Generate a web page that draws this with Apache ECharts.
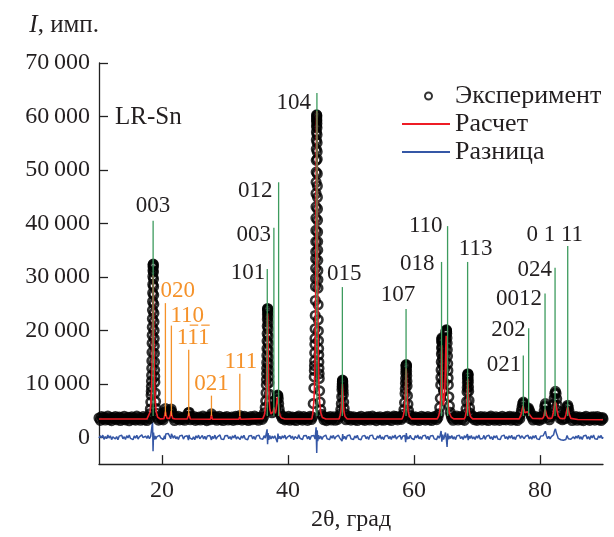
<!DOCTYPE html>
<html>
<head>
<meta charset="utf-8">
<script src="https://cdn.jsdelivr.net/npm/echarts@6/dist/echarts.min.js"></script>
<style>
  html, body { margin: 0; padding: 0; background: #fff; }
  #chart { width: 614px; height: 537px; }
</style>
</head>
<body>
<div id="chart"></div>
<script>
// Axis ticks
const xTicks = [20, 40, 60, 80];
const yTicks = [0, 10000, 20000, 30000, 40000, 50000, 60000, 70000];

// Observed pattern: background between reflections, [2θ, counts]
const obsBackground = [
  [10.0,3620],[10.2,3180],[10.4,3880],[10.6,3450],[10.8,3760],[11.0,3240],[11.2,3560],[11.4,3990],
  [11.6,3310],[11.8,3640],[12.0,3120],[12.2,3700],[12.4,3470],[12.6,3910],[12.8,3280],[13.0,3590],
  [13.2,3820],[13.4,3150],[13.6,3680],[13.8,3390],[14.0,3950],[14.2,3260],[14.4,3530],[14.6,3740],
  [14.8,3110],[15.0,3600],[15.2,3850],[15.4,3330],[15.6,3670],[15.8,3210],[16.0,3980],[16.2,3420],
  [16.4,3710],[16.6,3190],[16.8,3560],[17.0,3870],[17.2,3300],[17.4,3650],[17.6,3140],[17.8,3790],
  [18.0,3500],
  [19.25,3720],[19.45,3230],[19.65,3880],[19.85,3410],[20.05,3620],[20.2,3260],
  [21.8,3690],[22.0,3150],[22.2,3830],[22.4,3480],[22.6,3940],[22.8,3270],[23.0,3610],[23.2,3360],
  [23.4,3780],[23.6,3190],[23.8,3570],[24.0,3850],
  [24.5,3300],[24.7,3720],[24.9,3460],[25.1,3910],[25.3,3180],[25.5,3640],[25.7,3390],[25.9,3800],
  [26.1,3250],[26.3,3560],[26.5,3970],[26.7,3340],[26.9,3690],[27.1,3130],[27.3,3600],[27.5,3820],
  [27.65,3280],
  [28.1,3730],[28.3,3410],[28.5,3860],[28.7,3200],[28.9,3580],[29.1,3940],[29.3,3310],[29.5,3660],
  [29.7,3150],[29.9,3750],[30.1,3470],[30.3,3890],[30.5,3240],[30.7,3620],[30.9,3360],[31.1,3810],
  [31.3,3170],[31.5,3540],[31.7,3920],[31.9,3290],[32.1,3680],[32.25,3420],
  [32.5,3760],[32.7,3220],[32.9,3590],[33.1,3950],[33.3,3330],[33.5,3700],[33.7,3160],[33.9,3610],
  [34.1,3870],[34.3,3280],[34.5,3540],[34.7,3980],[34.9,3400],[35.1,3720],[35.3,3190],[35.5,3630],
  [35.7,3850],[35.9,3350],[36.1,3780],
  [39.1,3520],[39.3,3890],[39.5,3260],[39.7,3640],[39.9,3380],[40.1,3930],[40.3,3200],[40.5,3580],
  [40.7,3810],[40.9,3300],[41.1,3690],[41.3,3140],[41.5,3760],[41.7,3990],[41.9,3410],[42.1,3620],
  [42.3,3230],[42.5,3870],[42.7,3460],[42.9,3700],[43.1,3170],[43.3,3590],[43.5,3920],[43.7,3340],
  [43.9,3800],
  [45.5,3950],[45.7,3290],[45.9,3660],[46.1,3130],[46.3,3740],[46.5,3420],[46.7,3880],[46.9,3250],
  [47.1,3570],[47.3,3830],[47.5,3190],[47.7,3680],[47.9,3360],[48.1,3910],
  [49.2,3300],[49.4,3770],[49.6,3450],[49.8,3920],[50.0,3210],[50.2,3590],[50.4,3840],[50.6,3280],
  [50.8,3650],[51.0,3150],[51.2,3730],[51.4,3490],[51.6,3960],[51.8,3320],[52.0,3610],[52.2,3180],
  [52.4,3800],[52.6,3430],[52.8,3890],[53.0,3240],[53.2,3570],[53.4,3980],[53.6,3350],[53.8,3690],
  [54.0,3120],[54.2,3750],[54.4,3460],[54.6,3860],[54.8,3270],[55.0,3630],[55.2,3200],[55.4,3810],
  [55.6,3400],[55.8,3940],[56.0,3310],[56.2,3660],[56.4,3150],[56.6,3720],[56.8,3980],[57.0,3440],
  [57.2,3870],[57.4,3260],[57.6,3600],[57.8,3830],[58.0,3350],[58.15,3700],
  [59.4,3480],[59.6,3910],[59.8,3230],[60.0,3640],[60.2,3850],[60.4,3300],[60.6,3700],[60.8,3160],
  [61.0,3580],[61.2,3960],[61.4,3370],[61.6,3730],[61.8,3210],[62.0,3620],[62.2,3880],[62.4,3290],
  [62.6,3670],[62.8,3140],[63.0,3790],[63.2,3450],[63.4,3930],[63.6,3320],[63.8,3710],
  [66.0,3580],[66.2,3190],[66.4,3820],[66.6,3460],[66.8,3970],[67.0,3250],[67.2,3630],[67.4,3870],
  [67.6,3340],[67.8,3720],[68.0,3170],
  [69.2,3690],[69.4,3940],[69.6,3300],[69.8,3610],[70.0,3180],[70.2,3760],[70.4,3440],[70.6,3900],
  [70.8,3230],[71.0,3570],[71.2,3830],[71.4,3290],[71.6,3680],[71.8,3150],[72.0,3740],[72.2,3990],
  [72.4,3380],[72.6,3620],[72.8,3200],[73.0,3860],[73.2,3410],[73.4,3710],[73.6,3170],[73.8,3590],
  [74.0,3950],[74.2,3320],[74.4,3650],[74.6,3260],[74.8,3800],[75.0,3470],[75.2,3920],[75.4,3190],
  [75.6,3610],[75.8,3840],[76.0,3300],[76.2,3700],[76.4,3160],[76.6,3750],[76.8,3520],
  [78.7,3780],[78.9,3250],[79.1,3640],[79.3,3900],[79.5,3310],[79.7,3690],[79.9,3180],[80.1,3760],
  [80.3,3430],
  [81.3,3680],[81.5,3290],[81.7,3850],
  [83.15,3560],[83.35,3920],[83.55,3300],[83.75,3710],[83.95,3480],
  [84.9,3620],[85.1,3150],[85.3,3730],[85.5,3450],[85.7,3880],[85.9,3200],[86.1,3590],[86.3,3820],
  [86.5,3260],[86.7,3650],[86.9,3120],[87.1,3700],[87.3,3940],[87.5,3360],[87.7,3600],[87.9,3170],
  [88.1,3780],[88.3,3410],[88.5,3860],[88.7,3230],[88.9,3560],[89.1,3900],[89.3,3290],[89.5,3640],
  [89.7,3150],[89.9,3720],[90.0,3450]
];

// Observed pattern: reflection profiles, [2θ, counts]
const obsPeaks = [
  [18.05,4400],[18.15,5300],[18.22,6600],[18.27,7900],[18.29,8600],[18.31,9500],[18.33,10500],
  [18.35,11600],[18.37,12900],[18.39,14300],[18.41,15900],[18.43,17600],[18.445,19100],[18.46,20600],
  [18.475,22200],[18.49,23800],[18.505,25400],[18.52,27000],[18.535,28600],[18.55,30100],
  [18.565,31200],[18.58,32000],[18.595,32300],[18.61,32400],[18.625,31800],[18.64,30900],
  [18.655,29600],[18.67,28200],[18.685,26600],[18.70,24900],[18.715,23200],[18.73,21600],
  [18.745,20000],[18.76,18500],[18.775,17100],[18.79,15700],[18.81,14100],[18.83,12600],
  [18.85,11400],[18.87,10300],[18.92,8300],[18.98,6700],[19.06,5400],[19.18,4500],
  [20.35,3900],[20.45,4700],[20.55,5400],[20.65,4900],[20.75,4300],[20.85,4600],[21.0,4500],
  [21.15,4700],[21.25,4200],[21.35,4900],[21.45,5300],[21.55,4800],[21.65,4000],
  [24.1,4000],[24.2,4600],[24.3,4700],[24.4,4000],
  [27.75,3900],[27.85,4400],[27.95,3900],
  [32.35,4100],
  [36.26,4600],[36.38,5600],[36.46,6800],[36.52,8300],[36.56,9800],[36.58,10800],[36.60,11900],
  [36.615,12900],[36.63,14000],[36.645,15300],[36.66,16600],[36.675,18000],[36.69,19400],
  [36.705,20800],[36.72,22100],[36.735,23000],[36.75,23800],[36.765,24100],[36.78,24000],
  [36.795,23400],[36.81,22600],[36.825,21500],[36.84,20300],[36.855,18900],[36.87,17600],
  [36.885,16300],[36.90,15000],[36.915,13800],[36.93,12600],[36.95,11400],[36.97,10200],
  [37.02,8100],[37.08,6700],[37.16,5700],[37.28,5000],
  [37.45,4600],[37.60,5200],[37.72,5700],[37.82,5500],[37.95,5000],[38.05,5300],[38.15,6200],
  [38.22,7000],[38.28,7600],[38.34,7900],[38.40,7800],[38.46,7200],[38.52,6300],[38.60,5300],
  [38.72,4500],[38.9,4000],
  [44.00,6300],[44.10,9200],[44.16,11300],[44.18,12500],[44.20,13400],[44.22,14300],[44.24,15800],
  [44.26,17400],[44.28,18500],[44.30,20300],[44.32,22800],[44.34,25600],[44.36,28200],[44.37,29700],
  [44.38,31600],[44.39,33400],[44.40,34700],[44.41,36600],[44.42,38700],[44.43,41000],[44.44,43100],
  [44.45,45600],[44.46,47700],[44.47,49600],[44.48,51800],[44.49,53900],[44.50,55600],[44.51,57100],
  [44.52,58200],[44.53,59100],[44.54,59600],[44.55,60300],[44.56,60200],[44.57,59900],[44.58,59300],
  [44.59,58700],[44.60,57900],[44.61,56600],[44.62,55100],[44.63,53400],[44.64,52000],[44.65,49300],
  [44.66,47000],[44.67,44900],[44.68,42700],[44.69,40600],[44.70,38400],[44.71,36600],[44.72,35000],
  [44.73,33100],[44.74,31200],[44.75,29500],[44.76,27900],[44.78,24800],[44.80,22000],[44.82,19900],
  [44.84,18100],[44.86,16600],[44.88,15400],[44.90,14100],[44.92,12900],[44.94,11900],[44.96,11000],
  [45.02,8700],[45.10,6600],[45.20,5200],[45.35,4300],
  [48.25,4300],[48.38,5200],[48.46,6300],[48.52,7600],[48.57,8900],[48.59,9500],[48.61,10000],
  [48.63,10400],[48.65,10700],[48.67,10600],[48.69,10400],[48.71,9900],[48.73,9400],[48.755,8700],
  [48.78,8000],[48.84,6600],[48.92,5400],[49.05,4400],
  [58.28,4300],[58.40,5200],[58.50,6500],[58.58,8200],[58.61,9100],[58.64,10100],[58.665,11000],
  [58.69,12000],[58.71,12700],[58.73,13300],[58.75,13500],[58.77,13600],[58.79,13400],[58.81,13000],
  [58.83,12300],[58.85,11500],[58.875,10500],[58.90,9600],[58.96,7800],[59.04,6200],[59.14,5000],
  [59.28,4200],
  [63.95,4400],[64.08,5600],[64.17,7300],[64.24,9800],[64.27,11200],[64.30,12600],[64.33,14100],
  [64.35,15600],[64.37,16700],[64.39,17800],[64.41,18300],[64.43,18600],[64.45,18400],[64.47,17900],
  [64.49,17000],[64.51,16000],[64.535,14800],[64.56,13600],[64.59,12000],[64.62,10500],[64.68,8800],
  [64.74,8600],[64.80,10200],[64.86,12800],[64.89,14100],[64.92,15400],[64.95,16600],[64.98,17800],
  [65.01,18600],[65.04,19300],[65.07,19700],[65.10,19900],[65.125,20100],[65.15,20000],
  [65.175,19800],[65.20,19400],[65.23,18600],[65.26,17600],[65.29,16400],[65.32,15200],
  [65.35,13800],[65.38,12500],[65.415,11100],[65.45,9800],[65.53,7600],[65.62,5900],[65.75,4700],
  [65.9,4100],
  [68.13,4300],[68.26,5300],[68.35,6700],[68.42,8500],[68.45,9300],[68.47,10200],[68.49,10900],
  [68.51,11400],[68.53,11700],[68.55,11900],[68.57,11800],[68.59,11500],[68.61,10900],[68.63,10300],
  [68.655,9400],[68.68,8600],[68.74,6900],[68.82,5500],[68.93,4500],[69.08,4000],
  [76.9,4300],[77.05,5000],[77.15,5700],[77.25,6300],[77.35,6600],[77.45,6300],[77.55,5700],
  [77.7,5300],[77.85,5200],[78.0,5400],[78.15,5500],[78.3,5100],[78.45,4600],[78.6,4100],
  [80.5,4100],[80.65,4900],[80.75,5800],[80.85,6300],[80.95,5800],[81.05,4900],[81.2,4200],
  [81.9,4300],[82.05,5200],[82.15,6200],[82.25,7300],[82.35,8200],[82.45,8600],[82.55,8200],
  [82.65,7200],[82.75,6000],[82.85,5000],[83.0,4300],
  [84.05,4200],[84.2,5000],[84.3,5700],[84.4,6000],[84.5,5600],[84.6,4900],[84.75,4200]
];

// Calculated profile, [2θ, counts]
const calcProfile = [
  [10.0,3420],[17.6,3420],[17.9,3600],[18.1,4700],[18.25,6400],[18.35,8900],[18.42,12600],
  [18.48,18300],[18.53,24300],[18.57,28700],[18.60,30300],[18.63,28700],[18.67,24300],[18.72,18300],
  [18.78,12600],[18.85,8900],[18.95,6400],[19.1,4700],[19.3,3800],[19.7,3450],
  [20.3,3480],[20.45,4200],[20.55,4800],[20.65,4200],[20.8,3550],[21.2,3550],[21.35,4200],
  [21.45,4900],[21.55,4200],[21.7,3550],[22.1,3420],
  [24.0,3420],[24.15,4000],[24.25,4500],[24.35,4000],[24.5,3420],
  [27.7,3400],[27.85,4200],[28.0,3400],
  [32.2,3400],[32.35,3900],[32.5,3400],
  [36.0,3500],[36.25,4200],[36.4,5200],[36.5,6800],[36.58,9500],[36.64,13500],[36.69,19000],
  [36.73,22300],[36.76,23200],[36.79,22300],[36.83,19000],[36.88,13500],[36.94,9500],[37.01,6800],
  [37.12,5200],[37.3,4400],[37.5,4300],[37.65,4800],[37.76,5600],[37.88,4900],[38.0,4500],
  [38.12,5200],[38.22,6600],[38.30,7500],[38.36,7600],[38.42,7300],[38.50,6100],[38.60,4800],
  [38.75,4000],[39.0,3600],[39.5,3420],
  [43.8,3450],[43.95,4600],[44.1,6700],[44.2,9300],[44.28,13400],[44.32,16800],[44.36,22000],
  [44.40,29800],[44.44,40200],[44.48,51200],[44.52,58600],[44.56,61000],[44.60,58600],[44.64,51200],
  [44.68,40200],[44.72,29800],[44.76,22000],[44.80,16800],[44.84,13400],[44.92,9300],[45.02,6700],
  [45.2,4600],[45.45,3700],[46.0,3420],
  [48.1,3420],[48.25,4000],[48.4,4800],[48.5,6300],[48.58,8700],[48.64,10000],[48.70,8700],
  [48.78,6300],[48.88,4800],[49.05,3900],[49.4,3420],
  [58.1,3420],[58.3,4000],[58.45,4900],[58.55,6400],[58.64,9000],[58.71,11900],[58.76,12900],
  [58.81,11900],[58.88,9000],[58.97,6400],[59.07,4900],[59.25,4000],[59.6,3450],
  [63.7,3450],[63.95,4100],[64.1,5000],[64.22,7200],[64.30,11000],[64.35,15200],[64.39,17200],
  [64.43,15200],[64.49,11000],[64.57,7500],[64.67,6000],[64.78,6300],[64.88,8400],[64.97,12500],
  [65.05,16800],[65.11,19000],[65.17,17200],[65.25,12800],[65.34,8400],[65.45,5900],[65.6,4600],
  [65.9,3800],[66.3,3450],
  [68.0,3450],[68.15,3900],[68.3,4800],[68.41,6900],[68.48,9700],[68.53,11000],[68.58,9700],
  [68.66,6900],[68.78,4800],[68.95,3900],[69.3,3450],
  [76.7,3450],[76.95,4100],[77.1,4800],[77.22,5500],[77.33,5900],[77.45,5200],[77.6,4600],
  [77.8,4500],[78.0,4800],[78.15,5000],[78.3,4600],[78.5,4000],[78.8,3550],
  [80.4,3500],[80.6,3900],[80.72,4600],[80.82,5200],[80.92,4800],[81.05,4100],[81.3,3550],
  [81.9,3600],[82.1,4500],[82.25,5700],[82.37,6700],[82.45,7000],[82.55,6300],[82.7,5000],
  [82.9,4000],[83.2,3550],
  [83.9,3500],[84.1,4200],[84.28,5200],[84.4,5700],[84.5,5200],[84.65,4300],[84.9,3550],
  [86.0,3350],[90.0,3300]
];

// Difference curve (observed minus calculated), [2θ, counts]
const diffProfile = [
  [10.0,-150],[10.2,300],[10.4,-80],[10.6,420],[10.8,-380],[11.0,150],[11.2,-250],[11.4,450],
  [11.6,-120],[11.8,280],[12.0,-420],[12.2,90],[12.4,350],[12.6,-300],[12.8,160],[13.0,-450],
  [13.2,230],[13.4,-60],[13.6,400],[13.8,-270],[14.0,120],[14.2,-390],[14.4,310],[14.6,-100],
  [14.8,440],[15.0,-200],[15.2,60],[15.4,-430],[15.6,260],[15.8,-140],[16.0,380],[16.2,-320],
  [16.4,100],[16.6,-220],[16.8,470],[17.0,-60],[17.2,-350],[17.4,240],[17.6,-180],[17.8,330],
  [18.0,-260],[18.2,180],[18.4,500],[18.5,2900],[18.58,-2600],[18.66,900],[18.75,-400],[18.9,250],
  [19.0,-320],[19.2,150],[19.4,-210],[19.6,380],[19.8,-90],[20.0,260],[20.2,-400],[20.4,300],
  [20.5,-350],[20.6,650],[20.8,420],[21.0,700],[21.2,380],[21.4,-250],[21.5,650],[21.6,300],
  [21.8,-150],[22.0,340],[22.2,-280],[22.4,120],[22.6,-410],[22.8,270],[23.0,-50],[23.2,390],
  [23.4,-330],[23.6,160],[23.8,-200],[24.0,310],[24.2,-520],[24.3,480],[24.4,-100],[24.6,230],
  [24.8,-360],[25.0,80],[25.2,-440],[25.4,290],[25.6,-120],[25.8,410],[26.0,-260],[26.2,30],
  [26.4,370],[26.6,-310],[26.8,190],[27.0,-400],[27.2,250],[27.4,-70],[27.6,340],[27.85,-480],
  [28.0,200],[28.2,-230],[28.4,420],[28.6,-360],[28.8,110],[29.0,-180],[29.2,450],[29.4,-290],
  [29.6,70],[29.8,-420],[30.0,280],[30.2,-40],[30.4,360],[30.6,-250],[30.8,140],[31.0,-380],
  [31.2,300],[31.4,-110],[31.6,430],[31.8,-320],[32.0,90],[32.2,-200],[32.4,-420],[32.6,260],
  [32.8,-150],[33.0,390],[33.2,-280],[33.4,50],[33.6,-460],[33.8,240],[34.0,-90],[34.2,350],
  [34.4,-300],[34.6,170],[34.8,-410],[35.0,280],[35.2,-30],[35.4,400],[35.6,-240],[35.8,120],
  [36.0,-370],[36.2,310],[36.4,-150],[36.6,-300],[36.68,1500],[36.76,-1300],[36.84,800],
  [36.95,-450],[37.1,350],[37.3,-300],[37.5,220],[37.7,-200],[37.9,300],[38.1,380],[38.3,-900],
  [38.4,700],[38.55,-250],[38.7,200],[38.9,-320],[39.1,280],[39.3,-120],[39.5,410],[39.7,-350],
  [39.9,60],[40.1,-270],[40.3,380],[40.5,-190],[40.7,250],[40.9,-440],[41.1,130],[41.3,330],
  [41.5,-220],[41.7,470],[41.9,-160],[42.1,90],[42.3,-400],[42.5,290],[42.7,-60],[42.9,360],
  [43.1,-310],[43.3,180],[43.5,-420],[43.7,240],[43.9,-80],[44.1,330],[44.3,-300],[44.46,1900],
  [44.56,-2900],[44.64,1300],[44.72,-700],[44.85,400],[45.0,-300],[45.2,220],[45.4,-380],
  [45.6,150],[45.8,-100],[46.0,420],[46.2,-260],[46.4,60],[46.6,-430],[46.8,290],[47.0,-150],
  [47.2,370],[47.4,-320],[47.6,110],[47.8,-230],[48.0,400],[48.2,-90],[48.4,250],[48.58,-700],
  [48.68,600],[48.8,-300],[49.0,180],[49.2,-380],[49.4,310],[49.6,-60],[49.8,440],[50.0,-250],
  [50.2,100],[50.4,-410],[50.6,270],[50.8,-130],[51.0,380],[51.2,-300],[51.4,40],[51.6,-460],
  [51.8,230],[52.0,-80],[52.2,350],[52.4,-280],[52.6,160],[52.8,-390],[53.0,300],[53.2,-20],
  [53.4,420],[53.6,-240],[53.8,110],[54.0,-350],[54.2,270],[54.4,-140],[54.6,450],[54.8,-310],
  [55.0,80],[55.2,-420],[55.4,240],[55.6,-60],[55.8,330],[56.0,-270],[56.2,170],[56.4,-400],
  [56.6,290],[56.8,-110],[57.0,430],[57.2,-330],[57.4,50],[57.6,-210],[57.8,360],[58.0,-390],
  [58.2,200],[58.4,-150],[58.55,350],[58.68,-900],[58.78,800],[58.9,-350],[59.0,150],[59.2,-280],
  [59.4,390],[59.6,-170],[59.8,60],[60.0,-430],[60.2,310],[60.4,-90],[60.6,420],[60.8,-260],
  [61.0,140],[61.2,-370],[61.4,280],[61.6,-40],[61.8,400],[62.0,-300],[62.2,190],[62.4,-450],
  [62.6,250],[62.8,-120],[63.0,360],[63.2,-280],[63.4,80],[63.6,-390],[63.8,300],[64.0,-150],
  [64.15,350],[64.3,1200],[64.42,-800],[64.55,500],[64.7,-400],[64.85,200],[65.0,900],
  [65.15,-500],[65.25,-1800],[65.35,700],[65.5,-350],[65.65,250],[65.8,-200],[66.0,330],
  [66.2,-310],[66.4,120],[66.6,-420],[66.8,280],[67.0,-70],[67.2,390],[67.4,-250],[67.6,150],
  [67.8,-380],[68.0,310],[68.2,-100],[68.35,-300],[68.48,600],[68.6,-500],[68.75,250],[68.9,-200],
  [69.1,340],[69.3,-290],[69.5,90],[69.7,-410],[69.9,260],[70.1,-140],[70.3,430],[70.5,-320],
  [70.7,40],[70.9,-220],[71.1,370],[71.3,-380],[71.5,200],[71.7,-60],[71.9,410],[72.1,-270],
  [72.3,130],[72.5,-440],[72.7,290],[72.9,-110],[73.1,350],[73.3,-300],[73.5,70],[73.7,-400],
  [73.9,240],[74.1,-30],[74.3,420],[74.5,-260],[74.7,160],[74.9,-370],[75.1,300],[75.3,-150],
  [75.5,380],[75.7,-330],[75.9,90],[76.1,-420],[76.3,260],[76.5,-80],[76.7,400],[76.9,-200],
  [77.1,300],[77.3,550],[77.5,-250],[77.7,200],[77.9,-150],[78.1,400],[78.3,-300],[78.5,150],
  [78.7,-350],[78.9,280],[79.1,-120],[79.3,390],[79.5,-280],[79.7,60],[79.9,-400],[80.1,230],
  [80.3,-100],[80.5,300],[80.7,650],[80.85,1150],[81.0,350],[81.2,-250],[81.4,200],[81.6,-300],
  [81.8,150],[82.0,-100],[82.15,450],[82.3,1200],[82.45,1600],[82.6,800],[82.75,350],[82.9,-200],
  [83.1,100],[83.3,-450],[83.5,-200],[83.7,-550],[83.9,-250],[84.1,-400],[84.3,350],[84.5,-250],
  [84.7,-600],[84.9,-350],[85.1,-500],[85.3,100],[85.5,-300],[85.7,250],[85.9,-150],[86.1,380],
  [86.3,-320],[86.5,120],[86.7,-410],[86.9,270],[87.1,-60],[87.3,400],[87.5,-290],[87.7,160],
  [87.9,-380],[88.1,310],[88.3,-120],[88.5,430],[88.7,-260],[88.9,80],[89.1,-350],[89.3,290],
  [89.5,-100],[89.7,360],[89.9,-240],[90.0,50]
];

// Main phase reflections (green markers)
const mainHkl = ['003', '101', '003', '012', '104', '015', '107', '018', '110', '113',
                 '021', '202', '0012', '024', '0 1 11'];
const mainPos = [18.59, 36.71, 37.76, 38.51, 44.59, 48.63, 58.74, 64.37, 65.33, 68.51,
                 77.35, 78.20, 80.80, 82.39, 84.40];
const mainTop = [40500, 31500, 39200, 47700, 64400, 28100, 24000, 32800, 39500, 32800,
                 15300, 20400, 26900, 31700, 35800];

// Secondary phase reflections (orange markers); digits carrying a bar (negative index)
const minorHkl = ['020', '110', '111', '021', '111'];
const minorBars = [[], [], [1, 2], [], []];
const minorPos = [20.54, 21.49, 24.24, 27.85, 32.35];
const minorTop = [25100, 20900, 16400, 7800, 11900];

// Label placement around each marker top: [dx, dy, align]
const mainLabelPlace = [
  [0, -15, 'center'], [-2, 4, 'right'], [-3, 7, 'right'], [-6, 9, 'right'], [-6, 10, 'right'],
  [2, -13, 'center'], [-8, -14, 'center'], [-7, 2, 'right'], [-5, 0, 'right'], [8, -13, 'center'],
  [-2, 9, 'right'], [-3, 2, 'right'], [-3, 5, 'right'], [-3, 2, 'right'], [-13, -11, 'center']
];
const minorLabelPlace = [
  [-5, -12, 'left'], [-1, -10, 'left'], [-12, -12, 'left'], [0, -12, 'center'], [1, -12, 'center']
];

const markerFoot = 4000;
const labelSize = 23;
const digitWidth = labelSize * 0.5;
const serif = '"Liberation Serif", "Times New Roman", serif';
const ink = '#231f20';
const green = '#3d9b5e';
const orange = '#f5922a';

function yFormat(v) {
  if (v === 0) return '0';
  const s = String(v);
  return s.slice(0, s.length - 3) + '\u2009' + s.slice(-3);
}

function markerSeries(name, hkl, pos, top, color, place, labelColor, bars) {
  return {
    type: 'custom',
    name: name,
    z: 6,
    silent: true,
    data: pos.map((p, i) => [p, top[i], i]),
    encode: { x: 0, y: 1 },
    renderItem: function (params, api) {
      const i = api.value(2);
      const foot = api.coord([api.value(0), markerFoot]);
      const head = api.coord([api.value(0), api.value(1)]);
      const pl = place[i];
      const tx = head[0] + pl[0];
      const ty = head[1] + pl[1];
      const children = [
        { type: 'line', shape: { x1: foot[0], y1: foot[1], x2: head[0], y2: head[1] },
          style: { stroke: color, lineWidth: 1.3 } },
        { type: 'text', x: tx, y: ty,
          style: { text: hkl[i], fill: labelColor, font: labelSize + 'px ' + serif,
                   align: pl[2], verticalAlign: 'middle' } }
      ];
      // overbars for negative indices
      const marks = bars ? bars[i] : [];
      const n = hkl[i].length;
      const x0 = pl[2] === 'left' ? tx : (pl[2] === 'right' ? tx - n * digitWidth : tx - n * digitWidth / 2);
      marks.forEach(function (k) {
        children.push({
          type: 'line',
          shape: { x1: x0 + k * digitWidth + 1.5, y1: ty - 12.5, x2: x0 + (k + 1) * digitWidth - 1.5, y2: ty - 12.5 },
          style: { stroke: labelColor, lineWidth: 1.2 }
        });
      });
      return { type: 'group', children: children };
    }
  };
}

const chart = echarts.init(document.getElementById('chart'), null, { renderer: 'canvas' });

chart.setOption({
  animation: false,
  backgroundColor: '#fff',
  textStyle: { fontFamily: serif, color: ink },
  grid: { left: 99, right: 11, top: 63, bottom: 71, containLabel: false },
  title: {
    text: 'LR-Sn', left: 115, top: 105, padding: 0,
    textStyle: { fontFamily: serif, fontSize: 25, fontWeight: 'normal', color: ink }
  },
  legend: {
    orient: 'vertical', left: 401, top: 83, padding: 0,
    itemWidth: 48, itemHeight: 14, itemGap: 2,
    textStyle: { fontFamily: serif, fontSize: 26, color: ink },
    data: [
      { name: 'Эксперимент', icon: 'path://M0,0M48,14M23,7a3.5,3.5 0 1,0 7,0a3.5,3.5 0 1,0 -7,0' },
      { name: 'Расчет', icon: 'path://M0,0M48,14M0,6.1L48,6.1L48,7.9L0,7.9Z' },
      { name: 'Разница', icon: 'path://M0,0M48,14M0,6.1L48,6.1L48,7.9L0,7.9Z' }
    ]
  },
  xAxis: {
    type: 'value', min: 10, max: 90,
    name: '2θ, град', nameLocation: 'middle', nameGap: 43,
    nameTextStyle: { fontFamily: serif, fontSize: 24, color: ink },
    axisLine: { show: true, onZero: false, lineStyle: { color: '#222', width: 1.3 } },
    axisTick: { show: true, inside: true, length: 9, customValues: xTicks,
                lineStyle: { color: '#222', width: 1.3 } },
    axisLabel: { customValues: xTicks, margin: 15, fontFamily: serif, fontSize: 24, color: ink },
    splitLine: { show: false }
  },
  yAxis: {
    type: 'value', min: -5000, max: 70000,
    name: '{i|I}{t|, имп.}', nameLocation: 'end', nameGap: 38,
    nameTextStyle: {
      align: 'right', verticalAlign: 'middle',
      rich: {
        i: { fontFamily: serif, fontSize: 25, fontStyle: 'italic', color: ink },
        t: { fontFamily: serif, fontSize: 25, color: ink }
      }
    },
    axisLine: { show: true, lineStyle: { color: '#222', width: 1.3 } },
    axisTick: { show: true, inside: true, length: 9, customValues: yTicks,
                lineStyle: { color: '#222', width: 1.3 } },
    axisLabel: { customValues: yTicks, margin: 9, formatter: yFormat,
                 fontFamily: serif, fontSize: 24, color: ink },
    splitLine: { show: false }
  },
  series: [
    {
      name: 'Разница', type: 'line', z: 2, symbol: 'none', data: diffProfile,
      lineStyle: { color: '#3557a6', width: 1.5 }, itemStyle: { color: '#3557a6' }
    },
    {
      name: 'Эксперимент', type: 'scatter', z: 3, symbol: 'circle', symbolSize: 8.5,
      data: obsBackground.concat(obsPeaks),
      itemStyle: { color: 'rgba(255,255,255,0)', borderColor: '#000', borderWidth: 2.6 }
    },
    {
      name: 'Расчет', type: 'line', z: 4, symbol: 'none', data: calcProfile,
      lineStyle: { color: '#ee1c25', width: 1.6 }, itemStyle: { color: '#ee1c25' }
    },
    markerSeries('main-phase', mainHkl, mainPos, mainTop, green, mainLabelPlace, ink, null),
    markerSeries('minor-phase', minorHkl, minorPos, minorTop, orange, minorLabelPlace, orange, minorBars)
  ]
});
</script>
</body>
</html>
